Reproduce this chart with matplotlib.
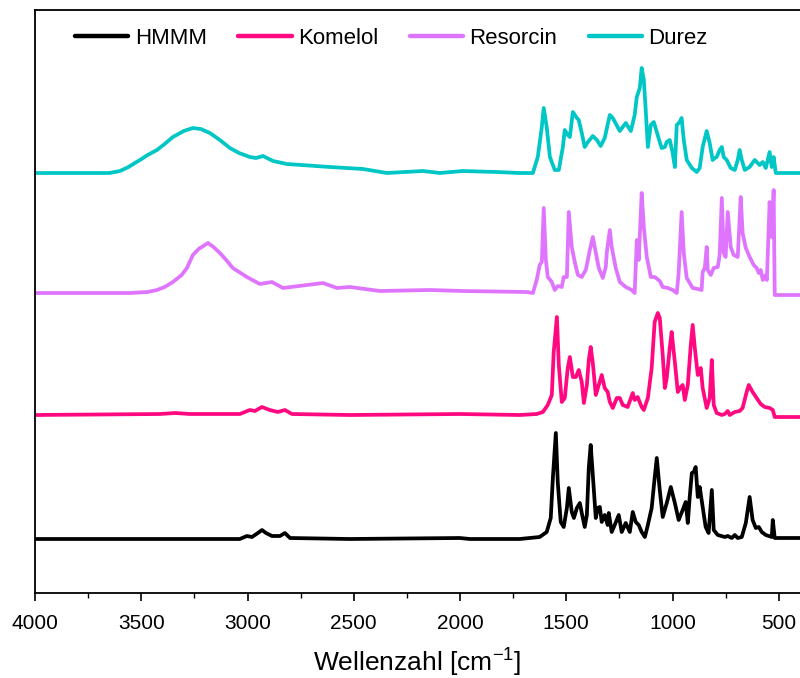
import matplotlib
matplotlib.use("Agg")
import matplotlib.pyplot as plt
from matplotlib.ticker import MultipleLocator

plt.rcParams['font.family'] = ['Liberation Sans', 'DejaVu Sans']
plt.rcParams['mathtext.fontset'] = 'custom'
plt.rcParams['mathtext.rm'] = 'Liberation Sans'
plt.rcParams['mathtext.it'] = 'Liberation Sans'

# ---- data (wavenumber [cm-1], relative absorbance) ----
series_names = ["HMMM", "Komelol", "Resorcin", "Durez"]
series_colors = ["#000000", "#FF0880", "#DF75FF", "#00C6C6"]
series_offsets = [54, 178, 299, 420]

hmmm_wn = [4000, 3036, 3003, 2979, 2951, 2932, 2913, 2885, 2847, 2824, 2800, 2518, 2001, 1954, 1719,
           1625, 1592, 1573, 1563, 1549, 1540, 1526, 1512, 1497, 1488, 1474, 1464, 1450, 1436, 1427,
           1413, 1403, 1394, 1385, 1375, 1361, 1352, 1342, 1333, 1319, 1305, 1300, 1286, 1272, 1253,
           1239, 1220, 1201, 1187, 1173, 1159, 1145, 1130, 1116, 1098, 1084, 1074, 1060, 1046, 1027,
           1008, 989, 971, 952, 938, 928, 919, 909, 900, 891, 881, 872, 858, 844, 830, 815, 806, 787,
           754, 740, 721, 707, 693, 674, 655, 637, 623, 608, 594, 580, 561, 533, 528, 519, 400]
hmmm_abs = [0, 0, 3, 2, 6, 9, 6, 3, 3, 6, 1, 0, 1, 0, 0,
            2, 7, 21, 61, 106, 57, 17, 12, 31, 51, 27, 21, 31, 36, 26,
            12, 24, 71, 94, 64, 21, 31, 32, 17, 24, 14, 26, 7, 14, 24,
            7, 16, 7, 27, 17, 14, 7, 2, 14, 31, 61, 81, 49, 22, 36,
            52, 36, 19, 29, 37, 16, 42, 66, 67, 72, 42, 52, 32, 12, 6, 49, 9, 4,
            2, 3, 1, 4, 1, 2, 16, 42, 19, 11, 12, 7, 4, 2, 19, 1, 1]

komelol_wn = [4000, 3412, 3340, 3271, 3036, 2989, 2965, 2932, 2895, 2857, 2824, 2791, 2518, 2001, 1719,
              1639, 1610, 1587, 1568, 1559, 1544, 1535, 1521, 1507, 1493, 1483, 1469, 1455, 1441, 1427,
              1417, 1403, 1394, 1385, 1375, 1361, 1347, 1333, 1319, 1305, 1295, 1281, 1262, 1248, 1234,
              1211, 1187, 1178, 1164, 1145, 1135, 1116, 1098, 1084, 1069, 1060, 1046, 1036, 1027, 1013,
              1004, 989, 975, 961, 952, 942, 928, 914, 905, 895, 881, 867, 858, 839, 825, 815, 806, 792,
              768, 754, 740, 731, 707, 684, 670, 651, 641, 623, 604, 585, 566, 543, 528, 519, 400]
komelol_abs = [0, 1, 2, 1, 1, 5, 4, 8, 5, 3, 5, 1, 0, 1, 0,
               1, 3, 10, 20, 63, 98, 50, 13, 17, 47, 58, 38, 38, 45, 33,
               12, 30, 55, 68, 52, 20, 30, 40, 27, 23, 13, 7, 17, 17, 10,
               8, 22, 15, 18, 8, 5, 17, 47, 93, 102, 97, 60, 27, 37, 67,
               83, 53, 23, 28, 30, 15, 30, 70, 90, 67, 40, 47, 27, 7, 17, 55, 10, 2,
               0, 1, 4, 0, 3, 4, 7, 23, 30, 23, 17, 11, 8, 7, 5, -2, -2]

resorcin_wn = [4000, 3553, 3470, 3426, 3390, 3351, 3310, 3285, 3257, 3230, 3186, 3160, 3130, 3100, 3069,
               3003, 2942, 2885, 2833, 2645, 2579,
               2518, 2377, 2142, 1987, 1686,
               1657, 1639, 1625, 1615, 1606, 1596, 1587, 1568, 1554, 1540, 1521, 1512, 1497, 1488, 1474,
               1460, 1445, 1427, 1408, 1389, 1375, 1366, 1347, 1328, 1314, 1309, 1295, 1286, 1267, 1248,
               1220, 1192, 1178, 1168, 1159, 1145, 1135, 1121, 1102, 1084, 1060, 1046, 1022, 999, 980,
               971, 957, 947, 933, 919, 905, 881, 863, 858, 848, 839, 834, 820, 806, 787, 778, 768, 759,
               750, 740, 726, 712, 693, 679, 670, 655, 637, 618, 604, 594, 585, 575, 561, 556, 543, 533,
               524, 519, 400]
resorcin_abs = [1, 1, 2, 4, 7, 12, 19, 26, 39, 45, 51, 47, 41, 34, 26,
                17, 10, 12, 6, 11, 6,
                7, 3, 4, 3, 2,
                1, 14, 29, 32, 86, 34, 17, 12, 4, 8, 7, 17, 17, 82, 47,
                32, 19, 17, 24, 44, 57, 47, 26, 16, 27, 42, 64, 47, 26, 12,
                7, 4, 1, 54, 34, 101, 67, 37, 17, 17, 13, 7, 6, 4, 1,
                21, 82, 41, 16, 11, 6, 5, 4, 22, 26, 47, 24, 19, 26, 27, 39, 96, 41,
                37, 82, 47, 39, 37, 97, 61, 46, 37, 29, 26, 21, 24, 14, 19, 14, 92, 57,
                104, -1, -1]

durez_wn = [4000, 3650, 3600, 3560, 3530, 3506, 3470, 3426, 3390, 3351, 3300, 3257, 3220, 3177, 3130,
            3083, 3040, 2989, 2960, 2927, 2880, 2815, 2612,
            2457, 2344, 2175, 2095, 1987, 1827, 1719, 1657,
            1634, 1615, 1606, 1592, 1577, 1554, 1535, 1516, 1507, 1493, 1483, 1469, 1450, 1441, 1427,
            1413, 1398, 1375, 1356, 1338, 1319, 1295, 1281, 1248, 1220, 1196, 1178, 1168, 1154, 1145,
            1135, 1126, 1116, 1102, 1088, 1074, 1060, 1051, 1036, 1027, 1013, 999, 989, 980, 966, 957,
            947, 933, 909, 886, 872, 858, 839, 825, 811, 801, 792, 778, 768, 759, 745, 726, 707, 693,
            684, 674, 660, 637, 613, 590, 575, 561, 543, 533, 524, 514, 400]
durez_abs = [0, 0, 2, 6, 10, 13, 18, 23, 29, 36, 42, 45, 44, 40, 33,
             25, 20, 16, 15, 17, 12, 9, 6,
             4, 0, 2, 0, 2, 1, 0, 0,
             16, 46, 65, 46, 16, 3, 3, 26, 43, 38, 36, 61, 55, 53, 40,
             26, 31, 37, 33, 27, 35, 58, 55, 42, 50, 42, 58, 76, 85, 105,
             93, 63, 26, 48, 51, 41, 31, 25, 26, 31, 33, 20, 6, 48, 51, 55,
             33, 13, 5, 1, 5, 26, 42, 30, 13, 15, 16, 23, 26, 16, 13, 5, 3, 13,
             23, 13, 3, 6, 13, 8, 11, 5, 21, 6, 16, 0, 0]

series_wn = [hmmm_wn, komelol_wn, resorcin_wn, durez_wn]
series_abs = [hmmm_abs, komelol_abs, resorcin_abs, durez_abs]

# ---- figure ----
fig = plt.figure(figsize=(8.0, 6.78), dpi=100)
ax = fig.add_axes([35 / 800, 85 / 678, 765 / 800, 583 / 678])

for name, color, off, wn, ab in zip(series_names, series_colors, series_offsets, series_wn, series_abs):
    ax.plot(wn, [a + off for a in ab], color=color, lw=2.7, label=name,
            solid_joinstyle='round', solid_capstyle='round')

ax.set_xlim(4000, 400)
ax.set_ylim(0, 583)
ax.xaxis.set_major_locator(MultipleLocator(500))
ax.xaxis.set_minor_locator(MultipleLocator(250))
ax.tick_params(axis='x', which='major', direction='out', length=6, width=1.2, labelsize=15, pad=9)
ax.tick_params(axis='x', which='minor', direction='out', length=3.5, width=1.0)
ax.set_yticks([])
ax.spines['right'].set_visible(False)
for s in ['left', 'top', 'bottom']:
    ax.spines[s].set_linewidth(1.3)

ax.set_xlabel('Wellenzahl [cm$^{-1}$]', fontsize=19, labelpad=10)

leg = ax.legend(loc='center', bbox_to_anchor=(0.466, 0.951), ncol=4, frameon=False,
                fontsize=16, handlelength=2.4, columnspacing=1.4, handletextpad=0.3)
for line in leg.get_lines():
    line.set_linewidth(3.2)

fig.savefig('out.png', dpi=100)
